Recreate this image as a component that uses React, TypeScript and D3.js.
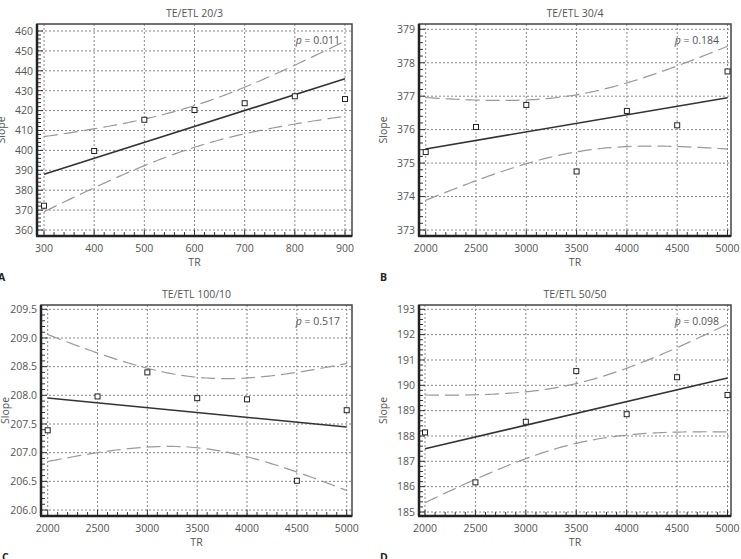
import * as d3 from "d3";

// TR values (ms) for the two acquisition sets
const trShort = [300, 400, 500, 600, 700, 800, 900];
const trLong = [2000, 2500, 3000, 3500, 4000, 4500, 5000];

// measured slopes per TE/ETL combination
const slope20_3 = [372.2, 399.7, 415.4, 420.3, 423.7, 427.2, 425.8];
const slope30_4 = [375.33, 376.08, 376.74, 374.75, 376.56, 376.13, 377.74];
const slope100_10 = [207.39, 207.98, 208.4, 207.95, 207.93, 206.51, 207.74];
const slope50_50 = [188.14, 186.17, 188.56, 190.56, 188.86, 190.32, 189.62];

const panelTitles = ["TE/ETL 20/3", "TE/ETL 30/4", "TE/ETL 100/10", "TE/ETL 50/50"];
const pValues = ["0.011", "0.184", "0.517", "0.098"];
const panelLetters = ["A", "B", "C", "D"];

const xTicksShort = [300, 400, 500, 600, 700, 800, 900];
const xTicksLong = [2000, 2500, 3000, 3500, 4000, 4500, 5000];
const yTicks20_3 = [360, 370, 380, 390, 400, 410, 420, 430, 440, 450, 460];
const yTicks30_4 = [373, 374, 375, 376, 377, 378, 379];
const yTicks100_10 = [206.0, 206.5, 207.0, 207.5, 208.0, 208.5, 209.0, 209.5];
const yTicks50_50 = [185, 186, 187, 188, 189, 190, 191, 192, 193];

// two-sided 95% t quantile, 5 degrees of freedom (n = 7)
const T_CRIT = 2.571;

const FONT = "'Open Sans', 'DejaVu Sans', sans-serif";
const TEXT = "#555";

type Frame = { left: number; top: number; right: number; bottom: number };

type PanelProps = {
  frame: Frame;
  xr: [number, number];
  yr: [number, number];
  xs: number[];
  ys: number[];
  xTicks: number[];
  yTicks: number[];
  xMinor: number;
  yMinor: number;
  yFmt: string;
  title: string;
  p: string;
  letter: string;
};

function fit(xs: number[], ys: number[]) {
  const n = xs.length;
  const mx = d3.mean(xs)!;
  const my = d3.mean(ys)!;
  const sxx = d3.sum(xs, (x) => (x - mx) ** 2);
  const sxy = d3.sum(xs, (x, i) => (x - mx) * (ys[i] - my));
  const b = sxy / sxx;
  const a = my - b * mx;
  const sse = d3.sum(xs, (x, i) => (ys[i] - (a + b * x)) ** 2);
  const s = Math.sqrt(sse / (n - 2));
  const half = (x: number) => T_CRIT * s * Math.sqrt(1 / n + (x - mx) ** 2 / sxx);
  return { a, b, half };
}

function Panel(props: PanelProps) {
  const { frame, xr, yr, xs, ys, xTicks, yTicks, xMinor, yMinor, yFmt, title, p, letter } = props;
  const x0 = xTicks[0];
  const x1 = xTicks[xTicks.length - 1];
  const y0 = yTicks[0];
  const y1 = yTicks[yTicks.length - 1];
  const x = d3.scaleLinear().domain([x0, x1]).range(xr);
  const y = d3.scaleLinear().domain([y0, y1]).range(yr);
  const fmt = d3.format(yFmt);

  const { a, b, half } = fit(xs, ys);
  const grid = d3.range(0, 101).map((i) => x0 + ((x1 - x0) * i) / 100);
  const line = d3.line<number>().x((v) => x(v));
  const upper = line.y((v) => y(a + b * v + half(v)))(grid) as string;
  const lower = line.y((v) => y(a + b * v - half(v)))(grid) as string;

  const xMinorTicks = d3.range(x0, x1 + xMinor / 2, xMinor);
  const yMinorTicks = d3.range(y0, y1 + yMinor / 2, yMinor);
  const cx = (frame.left + frame.right) / 2;
  const cy = (frame.top + frame.bottom) / 2;

  return (
    <g fontFamily={FONT}>
      <text x={cx} y={frame.top - 7} textAnchor="middle" fontSize={10.5} fill={TEXT}>
        {title}
      </text>

      {/* dotted grid */}
      {xTicks.map((t) => (
        <line key={"gx" + t} x1={x(t)} x2={x(t)} y1={frame.top} y2={frame.bottom}
          stroke="#888" strokeWidth={1} strokeDasharray="2,2" />
      ))}
      {yTicks.map((t) => (
        <line key={"gy" + t} x1={frame.left} x2={frame.right} y1={y(t)} y2={y(t)}
          stroke="#888" strokeWidth={1} strokeDasharray="2,2" />
      ))}

      {/* minor and major ticks pointing inward */}
      {xMinorTicks.map((t) => {
        const major = xTicks.some((m) => Math.abs(m - t) < 1e-6);
        return (
          <line key={"tx" + t} x1={x(t)} x2={x(t)} y1={frame.bottom} y2={frame.bottom - (major ? 6 : 4)}
            stroke="#333" strokeWidth={1} />
        );
      })}
      {yMinorTicks.map((t) => {
        const major = yTicks.some((m) => Math.abs(m - t) < 1e-6);
        return (
          <line key={"ty" + t} x1={frame.left} x2={frame.left + (major ? 6 : 4)} y1={y(t)} y2={y(t)}
            stroke="#333" strokeWidth={1} />
        );
      })}

      {/* frame */}
      <rect x={frame.left} y={frame.top} width={frame.right - frame.left} height={frame.bottom - frame.top}
        fill="none" stroke="#444" strokeWidth={1.5} />
      <line x1={frame.left} x2={frame.left} y1={frame.top} y2={frame.bottom} stroke="#222" strokeWidth={2.5} />
      <line x1={frame.left - 1} x2={frame.right} y1={frame.bottom} y2={frame.bottom} stroke="#222" strokeWidth={2.5} />

      {/* 95% confidence band and regression line */}
      <path d={upper} fill="none" stroke="#999" strokeWidth={1.2} strokeDasharray="14,6" />
      <path d={lower} fill="none" stroke="#999" strokeWidth={1.2} strokeDasharray="14,6" />
      <line x1={x(x0)} x2={x(x1)} y1={y(a + b * x0)} y2={y(a + b * x1)} stroke="#333" strokeWidth={1.6} />

      {/* observations */}
      {xs.map((v, i) => (
        <rect key={"pt" + i} x={x(v) - 2.5} y={y(ys[i]) - 2.5} width={5} height={5}
          fill="#fff" stroke="#222" strokeWidth={1} />
      ))}

      <text x={frame.right - 12} y={frame.top + 20} textAnchor="end" fontSize={10.5} fill={TEXT}>
        <tspan fontStyle="italic">p</tspan>
        {" = " + p}
      </text>

      {/* tick labels */}
      {xTicks.map((t) => (
        <text key={"lx" + t} x={x(t)} y={frame.bottom + 16} textAnchor="middle" fontSize={10.5} fill={TEXT}>
          {t}
        </text>
      ))}
      {yTicks.map((t) => (
        <text key={"ly" + t} x={frame.left - 4} y={y(t) + 3.8} textAnchor="end" fontSize={10.5} fill={TEXT}>
          {fmt(t)}
        </text>
      ))}

      <text x={cx} y={frame.bottom + 30} textAnchor="middle" fontSize={10.5} fill={TEXT}>
        TR
      </text>
      <text transform={`translate(${frame.left - 32},${cy}) rotate(-90)`} textAnchor="middle" fontSize={10.5} fill={TEXT}>
        Slope
      </text>

      <text x={frame.left - 39} y={frame.bottom + 45} fontSize={10.5} fontWeight="bold" fill="#222">
        {letter}
      </text>
    </g>
  );
}

export default function App() {
  const panels: PanelProps[] = [
    {
      frame: { left: 37, top: 24, right: 352, bottom: 236 },
      xr: [44, 345], yr: [230, 31],
      xs: trShort, ys: slope20_3, xTicks: xTicksShort, yTicks: yTicks20_3,
      xMinor: 20, yMinor: 2, yFmt: "d",
      title: panelTitles[0], p: pValues[0], letter: panelLetters[0],
    },
    {
      frame: { left: 419, top: 24, right: 731, bottom: 236 },
      xr: [425.7, 727.5], yr: [230, 29.3],
      xs: trLong, ys: slope30_4, xTicks: xTicksLong, yTicks: yTicks30_4,
      xMinor: 100, yMinor: 0.2, yFmt: "d",
      title: panelTitles[1], p: pValues[1], letter: panelLetters[1],
    },
    {
      frame: { left: 41, top: 305, right: 352, bottom: 516 },
      xr: [47.7, 346.7], yr: [510, 309.3],
      xs: trLong, ys: slope100_10, xTicks: xTicksLong, yTicks: yTicks100_10,
      xMinor: 100, yMinor: 0.1, yFmt: ".1f",
      title: panelTitles[2], p: pValues[2], letter: panelLetters[2],
    },
    {
      frame: { left: 419, top: 305, right: 731, bottom: 516 },
      xr: [425, 727.5], yr: [512, 309.3],
      xs: trLong, ys: slope50_50, xTicks: xTicksLong, yTicks: yTicks50_50,
      xMinor: 100, yMinor: 0.2, yFmt: "d",
      title: panelTitles[3], p: pValues[3], letter: panelLetters[3],
    },
  ];

  return (
    <svg width={741} height={559} style={{ position: "absolute", left: 0, top: 0, background: "#fff" }}>
      <rect width={741} height={559} fill="#fff" />
      {panels.map((pp) => (
        <Panel key={pp.title} {...pp} />
      ))}
    </svg>
  );
}
